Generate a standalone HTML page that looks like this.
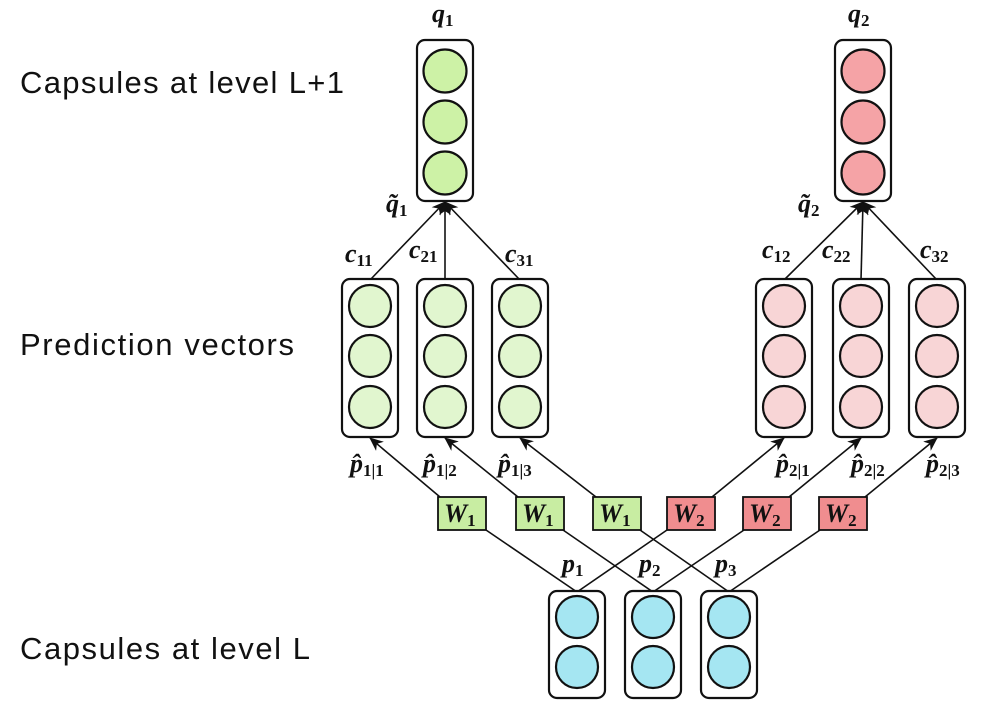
<!DOCTYPE html>
<html><head><meta charset="utf-8"><style>
html,body{margin:0;padding:0;background:#fff;}
svg{display:block;}
.lbl{font-family:"Liberation Sans",sans-serif;font-size:31px;fill:#111;}
.m{font-family:"Liberation Serif",serif;font-style:italic;font-weight:bold;font-size:26px;fill:#111;}
.s{font-family:"Liberation Serif",serif;font-weight:bold;font-size:17px;fill:#111;font-style:normal;}
</style></head><body>
<svg width="991" height="709" viewBox="0 0 991 709" xmlns="http://www.w3.org/2000/svg">
<defs>
<marker id="ar" markerWidth="14" markerHeight="12" refX="13" refY="6" orient="auto" markerUnits="userSpaceOnUse"><path d="M0,0 L14,6 L0,12 L4,6 z" fill="#111"/></marker>
</defs>
<text class="lbl" x="20" y="93" textLength="324">Capsules at level L+1</text>
<text class="lbl" x="20" y="355" textLength="274">Prediction vectors</text>
<text class="lbl" x="20" y="659" textLength="290">Capsules at level L</text>

<g stroke="#111" stroke-width="1.6" fill="none">
<line x1="370" y1="280" x2="445" y2="202" marker-end="url(#ar)"/>
<line x1="445" y1="280" x2="445" y2="202" marker-end="url(#ar)"/>
<line x1="520" y1="280" x2="445" y2="202" marker-end="url(#ar)"/>
<line x1="784" y1="280" x2="863" y2="202" marker-end="url(#ar)"/>
<line x1="861" y1="280" x2="863" y2="202" marker-end="url(#ar)"/>
<line x1="937" y1="280" x2="863" y2="202" marker-end="url(#ar)"/>
<line x1="440" y1="497" x2="370" y2="438" marker-end="url(#ar)"/>
<line x1="518" y1="497" x2="445" y2="438" marker-end="url(#ar)"/>
<line x1="596" y1="497" x2="520" y2="438" marker-end="url(#ar)"/>
<line x1="712" y1="497" x2="784" y2="438" marker-end="url(#ar)"/>
<line x1="789" y1="497" x2="861" y2="438" marker-end="url(#ar)"/>
<line x1="865" y1="497" x2="937" y2="438" marker-end="url(#ar)"/>
<line x1="486" y1="530" x2="577" y2="592"/>
<line x1="563" y1="530" x2="653" y2="592"/>
<line x1="640" y1="530" x2="729" y2="592"/>
<line x1="667" y1="530" x2="577" y2="592"/>
<line x1="744" y1="530" x2="653" y2="592"/>
<line x1="820" y1="530" x2="729" y2="592"/>
</g>

<g stroke="#111" stroke-width="2.2">
<rect x="417" y="40" width="56" height="161" rx="8" fill="#fff"/>
<circle cx="445" cy="71" r="21.5" fill="#cdf2a6"/><circle cx="445" cy="122" r="21.5" fill="#cdf2a6"/><circle cx="445" cy="173" r="21.5" fill="#cdf2a6"/>
<rect x="835" y="40" width="56" height="161" rx="8" fill="#fff"/>
<circle cx="863" cy="71" r="21.5" fill="#f5a3a6"/><circle cx="863" cy="122" r="21.5" fill="#f5a3a6"/><circle cx="863" cy="173" r="21.5" fill="#f5a3a6"/>
<g fill="#e1f6cf">
<rect x="342" y="279" width="56" height="158" rx="8" fill="#fff"/>
<circle cx="370" cy="306" r="21"/><circle cx="370" cy="356" r="21"/><circle cx="370" cy="407" r="21"/>
<rect x="417" y="279" width="56" height="158" rx="8" fill="#fff"/>
<circle cx="445" cy="306" r="21"/><circle cx="445" cy="356" r="21"/><circle cx="445" cy="407" r="21"/>
<rect x="492" y="279" width="56" height="158" rx="8" fill="#fff"/>
<circle cx="520" cy="306" r="21"/><circle cx="520" cy="356" r="21"/><circle cx="520" cy="407" r="21"/>
</g>
<g fill="#f8d5d6">
<rect x="756" y="279" width="56" height="158" rx="8" fill="#fff"/>
<circle cx="784" cy="306" r="21"/><circle cx="784" cy="356" r="21"/><circle cx="784" cy="407" r="21"/>
<rect x="833" y="279" width="56" height="158" rx="8" fill="#fff"/>
<circle cx="861" cy="306" r="21"/><circle cx="861" cy="356" r="21"/><circle cx="861" cy="407" r="21"/>
<rect x="909" y="279" width="56" height="158" rx="8" fill="#fff"/>
<circle cx="937" cy="306" r="21"/><circle cx="937" cy="356" r="21"/><circle cx="937" cy="407" r="21"/>
</g>
<g fill="#a5e6f2">
<rect x="549" y="591" width="56" height="107" rx="8" fill="#fff"/>
<circle cx="577" cy="617" r="21"/><circle cx="577" cy="667" r="21"/>
<rect x="625" y="591" width="56" height="107" rx="8" fill="#fff"/>
<circle cx="653" cy="617" r="21"/><circle cx="653" cy="667" r="21"/>
<rect x="701" y="591" width="56" height="107" rx="8" fill="#fff"/>
<circle cx="729" cy="617" r="21"/><circle cx="729" cy="667" r="21"/>
</g>
</g>
<g stroke="#111" stroke-width="1.8">
<rect x="438" y="497" width="48" height="33" fill="#c8eda2"/>
<rect x="516" y="497" width="48" height="33" fill="#c8eda2"/>
<rect x="593" y="497" width="48" height="33" fill="#c8eda2"/>
<rect x="667" y="497" width="48" height="33" fill="#f08d8f"/>
<rect x="743" y="497" width="48" height="33" fill="#f08d8f"/>
<rect x="819" y="497" width="48" height="33" fill="#f08d8f"/>
</g>
<g class="m">
<text x="444" y="522">W<tspan class="s" dy="4">1</tspan></text>
<text x="522" y="522">W<tspan class="s" dy="4">1</tspan></text>
<text x="599" y="522">W<tspan class="s" dy="4">1</tspan></text>
<text x="673" y="522">W<tspan class="s" dy="4">2</tspan></text>
<text x="749" y="522">W<tspan class="s" dy="4">2</tspan></text>
<text x="825" y="522">W<tspan class="s" dy="4">2</tspan></text>

<text x="432" y="22">q<tspan class="s" dy="4">1</tspan></text>
<text x="848" y="22">q<tspan class="s" dy="4">2</tspan></text>
<text x="386" y="212">q̃<tspan class="s" dy="4">1</tspan></text>
<text x="798" y="212">q̃<tspan class="s" dy="4">2</tspan></text>

<text x="345" y="262">c<tspan class="s" dy="4">11</tspan></text>
<text x="409" y="258">c<tspan class="s" dy="4">21</tspan></text>
<text x="505" y="262">c<tspan class="s" dy="4">31</tspan></text>
<text x="762" y="258">c<tspan class="s" dy="4">12</tspan></text>
<text x="822" y="258">c<tspan class="s" dy="4">22</tspan></text>
<text x="920" y="258">c<tspan class="s" dy="4">32</tspan></text>

<text x="350" y="472">p̂<tspan class="s" dy="4">1|1</tspan></text>
<text x="423" y="472">p̂<tspan class="s" dy="4">1|2</tspan></text>
<text x="498" y="472">p̂<tspan class="s" dy="4">1|3</tspan></text>
<text x="776" y="472">p̂<tspan class="s" dy="4">2|1</tspan></text>
<text x="851" y="472">p̂<tspan class="s" dy="4">2|2</tspan></text>
<text x="926" y="472">p̂<tspan class="s" dy="4">2|3</tspan></text>

<text x="562" y="572">p<tspan class="s" dy="4">1</tspan></text>
<text x="639" y="572">p<tspan class="s" dy="4">2</tspan></text>
<text x="715" y="572">p<tspan class="s" dy="4">3</tspan></text>
</g>
</svg>
</body></html>
